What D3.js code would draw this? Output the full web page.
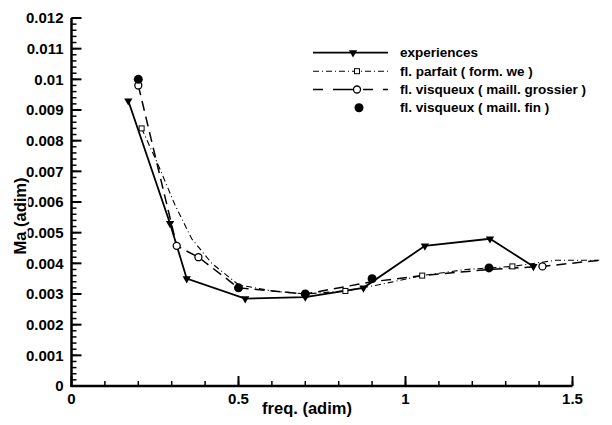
<!DOCTYPE html>
<html>
<head>
<meta charset="utf-8">
<script src="https://cdn.jsdelivr.net/npm/d3@7"></script>
<style>
  body { margin: 0; background: #fff; }
  text { font-family: "Liberation Sans", Arial, sans-serif; font-weight: bold; fill: #000; }
</style>
</head>
<body>
<svg class="mainSvg"></svg>
<script>
// data
const expX = [0.17, 0.295, 0.345, 0.52, 0.70, 0.874, 1.058, 1.253, 1.383];
const expY = [0.0093, 0.0053, 0.0035, 0.00285, 0.0029, 0.0032, 0.00457, 0.0048, 0.0039];

const parfaitX = [0.21, 0.26, 0.31, 0.36, 0.42, 0.5, 0.6, 0.7, 0.82, 0.92, 1.05, 1.18, 1.32, 1.45, 1.58];
const parfaitY = [0.0084, 0.0072, 0.0059, 0.0048, 0.0040, 0.0033, 0.0031, 0.0030, 0.0031, 0.0033, 0.0036, 0.0038, 0.0039, 0.0041, 0.0041];
const parfaitMarked = [0.21, 0.82, 1.05, 1.32];

const grossierX = [0.2, 0.315, 0.38, 0.5, 0.7, 0.9, 1.05, 1.25, 1.41, 1.58];
const grossierY = [0.0098, 0.00457, 0.0042, 0.0032, 0.0030, 0.0034, 0.0036, 0.0038, 0.0039, 0.0041];
const grossierMarked = [0.2, 0.315, 0.38, 1.41];

const finX = [0.2, 0.5, 0.7, 0.9, 1.25];
const finY = [0.0100, 0.0032, 0.0030, 0.0035, 0.00385];

const legendLabels = [
  'experiences',
  'fl. parfait ( form. we )',
  'fl. visqueux ( maill. grossier )',
  'fl. visqueux ( maill. fin )',
];
const xTickLabels = ['0', '0.5', '1', '1.5'];
const yTickLabels = ['0', '0.001', '0.002', '0.003', '0.004', '0.005', '0.006',
  '0.007', '0.008', '0.009', '0.01', '0.011', '0.012'];

// layout
const width = 612;
const height = 425;
const x0 = 71.5;
const x1 = 572.5;
const yBottom = 386;
const yTop = 18;

const svg = d3.select('.mainSvg')
  .attr('width', width)
  .attr('height', height);

const x = d3.scaleLinear().domain([0, 1.5]).range([x0, x1]);
const y = d3.scaleLinear().domain([0, 0.012]).range([yBottom, yTop]);

// ===========================================================================
//      axes
// ===========================================================================
const xMinor = d3.range(0, 1.501, 0.1);
const yMinor = d3.range(0, 0.01201, 0.0002);

const xAxis = svg.append('g').attr('transform', `translate(0,${yBottom})`);
xAxis.selectAll('line.minor')
  .data(xMinor)
  .enter()
  .append('line')
  .attr('x1', d => x(d)).attr('x2', d => x(d))
  .attr('y1', 0).attr('y2', -5)
  .attr('stroke', '#000').attr('stroke-width', 1.5);
xAxis.selectAll('line.major')
  .data(xTickLabels)
  .enter()
  .append('line')
  .attr('x1', d => x(+d)).attr('x2', d => x(+d))
  .attr('y1', 0).attr('y2', -10)
  .attr('stroke', '#000').attr('stroke-width', 2);
xAxis.append('line')
  .attr('x1', x0 - 1).attr('x2', x1)
  .attr('stroke', '#000').attr('stroke-width', 2.5);
xAxis.selectAll('text')
  .data(xTickLabels)
  .enter()
  .append('text')
  .attr('x', d => x(+d))
  .attr('y', 18)
  .attr('text-anchor', 'middle')
  .attr('font-size', 15)
  .text(d => d);

const yAxis = svg.append('g').attr('transform', `translate(${x0},0)`);
yAxis.selectAll('line.minor')
  .data(yMinor)
  .enter()
  .append('line')
  .attr('x1', 0).attr('x2', 5)
  .attr('y1', d => y(d)).attr('y2', d => y(d))
  .attr('stroke', '#000').attr('stroke-width', 1.5);
yAxis.selectAll('line.major')
  .data(yTickLabels)
  .enter()
  .append('line')
  .attr('x1', 0).attr('x2', 10)
  .attr('y1', d => y(+d)).attr('y2', d => y(+d))
  .attr('stroke', '#000').attr('stroke-width', 2);
yAxis.append('line')
  .attr('y1', yTop).attr('y2', yBottom + 1)
  .attr('stroke', '#000').attr('stroke-width', 2.5);
yAxis.selectAll('text')
  .data(yTickLabels)
  .enter()
  .append('text')
  .attr('x', -8)
  .attr('y', d => y(+d))
  .attr('dy', '0.35em')
  .attr('text-anchor', 'end')
  .attr('font-size', 15)
  .text(d => d);

// axis titles
svg.append('text')
  .attr('x', 307)
  .attr('y', 414)
  .attr('text-anchor', 'middle')
  .attr('font-size', 16.5)
  .text('freq. (adim)');

svg.append('text')
  .attr('transform', 'translate(26,216) rotate(-90)')
  .attr('text-anchor', 'middle')
  .attr('font-size', 16.5)
  .attr('stroke', '#fff')
  .attr('stroke-width', 4)
  .attr('paint-order', 'stroke')
  .text('Ma (adim)');

// ===========================================================================
//      series
// ===========================================================================
const line = d3.line().x(d => x(d[0])).y(d => y(d[1]));
const zip = (a, b) => a.map((v, i) => [v, b[i]]);

const parfait = zip(parfaitX, parfaitY);
const grossier = zip(grossierX, grossierY);
const exper = zip(expX, expY);
const fin = zip(finX, finY);

const triangle = d3.symbol().type(d3.symbolTriangle).size(30);

function drawTriangle(g, px, py) {
  g.append('path')
    .attr('d', triangle())
    .attr('transform', `translate(${px},${py}) rotate(180)`)
    .attr('fill', '#000');
}
function drawSquare(g, px, py) {
  g.append('rect')
    .attr('x', px - 2.5).attr('y', py - 2.5)
    .attr('width', 5).attr('height', 5)
    .attr('fill', '#fff').attr('stroke', '#000').attr('stroke-width', 1);
}
function drawOpen(g, px, py) {
  g.append('circle')
    .attr('cx', px).attr('cy', py).attr('r', 3.5)
    .attr('fill', '#fff').attr('stroke', '#000').attr('stroke-width', 1.3);
}
function drawFilled(g, px, py) {
  g.append('circle')
    .attr('cx', px).attr('cy', py).attr('r', 4.5)
    .attr('fill', '#000');
}

const plot = svg.append('g');

plot.append('path')
  .attr('d', line(parfait))
  .attr('fill', 'none').attr('stroke', '#000')
  .attr('stroke-width', 1.1).attr('stroke-dasharray', '6,3,1,3');

plot.append('path')
  .attr('d', line(grossier))
  .attr('fill', 'none').attr('stroke', '#000')
  .attr('stroke-width', 1.5).attr('stroke-dasharray', '10,6');

plot.append('path')
  .attr('d', line(exper))
  .attr('fill', 'none').attr('stroke', '#000')
  .attr('stroke-width', 1.8);

parfait.filter(d => parfaitMarked.includes(d[0]))
  .forEach(d => drawSquare(plot, x(d[0]), y(d[1])));
grossier.filter(d => grossierMarked.includes(d[0]))
  .forEach(d => drawOpen(plot, x(d[0]), y(d[1])));
exper.forEach(d => drawTriangle(plot, x(d[0]), y(d[1])));
fin.forEach(d => drawFilled(plot, x(d[0]), y(d[1])));

// ===========================================================================
//      legend
// ===========================================================================
const legend = svg.append('g');
const legendRowY = [52.7, 71.2, 89.5, 107.7];
const legendX1 = 313;
const legendX2 = 388;
const legendMid = 357;

legendLabels.forEach(function (label, i) {
  const ly = legendRowY[i];
  if (i === 0) {
    legend.append('line')
      .attr('x1', legendX1).attr('x2', legendX2).attr('y1', ly).attr('y2', ly)
      .attr('stroke', '#000').attr('stroke-width', 1.8);
    drawTriangle(legend, 353, ly);
  } else if (i === 1) {
    legend.append('line')
      .attr('x1', legendX1).attr('x2', legendX2).attr('y1', ly).attr('y2', ly)
      .attr('stroke', '#000').attr('stroke-width', 1.1).attr('stroke-dasharray', '6,3,1,3');
    drawSquare(legend, legendMid, ly);
  } else if (i === 2) {
    legend.append('line')
      .attr('x1', legendX1).attr('x2', legendX2).attr('y1', ly).attr('y2', ly)
      .attr('stroke', '#000').attr('stroke-width', 1.5).attr('stroke-dasharray', '10,10,20,10');
    drawOpen(legend, legendMid, ly);
  } else {
    drawFilled(legend, legendMid + 2, ly);
  }
  legend.append('text')
    .attr('x', 400)
    .attr('y', ly + 4.5)
    .attr('font-size', 13.5)
    .text(label);
});
</script>
</body>
</html>
